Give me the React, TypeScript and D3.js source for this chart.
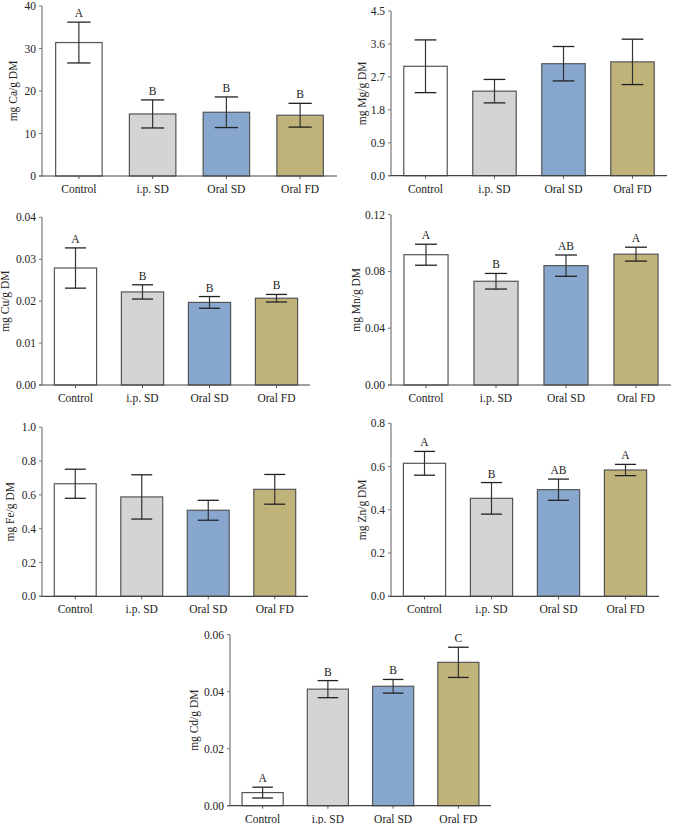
import React from "react";
import * as d3 from "d3";

const categories = ["Control", "i.p. SD", "Oral SD", "Oral FD"];
const barColors = ["#ffffff", "#d4d4d4", "#87a7cf", "#bfb37a"];

const caMean = [31.4, 14.6, 15.0, 14.3];
const caErr = [4.8, 3.3, 3.6, 2.8];
const caLetters = ["A", "B", "B", "B"];

const mgMean = [2.99, 2.31, 3.06, 3.11];
const mgErr = [0.72, 0.32, 0.47, 0.62];
const mgLetters = ["", "", "", ""];

const cuMean = [0.0279, 0.0222, 0.0197, 0.0207];
const cuErr = [0.0048, 0.0017, 0.0014, 0.0009];
const cuLetters = ["A", "B", "B", "B"];

const mnMean = [0.0918, 0.0731, 0.0841, 0.0922];
const mnErr = [0.0074, 0.0055, 0.0075, 0.0049];
const mnLetters = ["A", "B", "AB", "A"];

const feMean = [0.666, 0.588, 0.509, 0.633];
const feErr = [0.086, 0.131, 0.059, 0.088];
const feLetters = ["", "", "", ""];

const znMean = [0.615, 0.453, 0.493, 0.584];
const znErr = [0.055, 0.073, 0.049, 0.026];
const znLetters = ["A", "B", "AB", "A"];

const cdMean = [0.0046, 0.0409, 0.0419, 0.0503];
const cdErr = [0.0019, 0.003, 0.0024, 0.0053];
const cdLetters = ["A", "B", "B", "C"];

const caTicks = [0, 10, 20, 30, 40];
const mgTicks = [0, 0.9, 1.8, 2.7, 3.6, 4.5];
const cuTicks = [0, 0.01, 0.02, 0.03, 0.04];
const mnTicks = [0, 0.04, 0.08, 0.12];
const feTicks = [0, 0.2, 0.4, 0.6, 0.8, 1.0];
const znTicks = [0, 0.2, 0.4, 0.6, 0.8];
const cdTicks = [0, 0.02, 0.04, 0.06];

type PanelProps = {
  title: string;
  mean: number[];
  err: number[];
  letters: string[];
  ticks: number[];
  fmt: string;
  x0: number;
  x1: number;
  yTop: number;
  yBot: number;
  labelX: number;
};

const FONT = "Liberation Serif, Times New Roman, serif";
const FS = 11.5;

function Panel(p: PanelProps) {
  const maxV = p.ticks[p.ticks.length - 1];
  const x = d3.scaleBand<string>().domain(categories).range([p.x0, p.x1]).paddingInner(0.37).paddingOuter(0.185);
  const y = d3.scaleLinear().domain([0, maxV]).range([p.yBot, p.yTop]);
  const f = d3.format(p.fmt);
  const bw = x.bandwidth();
  const ts = { fontFamily: FONT, fontSize: FS, fill: "#222" } as React.CSSProperties;
  return (
    <g>
      {categories.map((c, i) => {
        const bx = x(c)!;
        const top = y(p.mean[i]);
        const hi = y(p.mean[i] + p.err[i]);
        const lo = y(p.mean[i] - p.err[i]);
        const cx = bx + bw / 2;
        return (
          <g key={c}>
            <rect x={bx} y={top} width={bw} height={p.yBot - top} fill={barColors[i]} stroke="#555" strokeWidth={1.2} />
            <line x1={cx} x2={cx} y1={hi} y2={lo} stroke="#333" strokeWidth={1.2} />
            <line x1={cx - bw / 4} x2={cx + bw / 4} y1={hi} y2={hi} stroke="#222" strokeWidth={1.3} />
            <line x1={cx - bw / 4} x2={cx + bw / 4} y1={lo} y2={lo} stroke="#222" strokeWidth={1.3} />
            {p.letters[i] ? (
              <text x={cx} y={hi - 5} textAnchor="middle" style={ts}>
                {p.letters[i]}
              </text>
            ) : null}
            <line x1={cx} x2={cx} y1={p.yBot} y2={p.yBot + 3} stroke="#555" strokeWidth={1} />
            <text x={cx} y={p.yBot + 17} textAnchor="middle" style={ts}>
              {c}
            </text>
          </g>
        );
      })}
      <line x1={p.x0} x2={p.x0} y1={p.yTop} y2={p.yBot} stroke="#777" strokeWidth={1.2} />
      <line x1={p.x0 - 3} x2={p.x1} y1={p.yBot} y2={p.yBot} stroke="#444" strokeWidth={1.2} />
      {p.ticks.map((t) => (
        <g key={t}>
          <line x1={p.x0 - 3} x2={p.x0} y1={y(t)} y2={y(t)} stroke="#777" strokeWidth={1} />
          <text x={p.x0 - 6} y={y(t) + 4} textAnchor="end" style={ts}>
            {f(t)}
          </text>
        </g>
      ))}
      <text
        transform={`translate(${p.labelX},${(p.yTop + p.yBot) / 2}) rotate(-90)`}
        textAnchor="middle"
        style={ts}
      >
        {p.title}
      </text>
    </g>
  );
}

export default function App() {
  return (
    <svg width={673} height={824} style={{ position: "absolute", left: 0, top: 0, background: "#fff" }}>
      <rect width={673} height={824} fill="#fff" />
      <Panel title="mg Ca/g DM" mean={caMean} err={caErr} letters={caLetters} ticks={caTicks} fmt="d" x0={42} x1={337} yTop={6} yBot={176} labelX={17} />
      <Panel title="mg Mg/g DM" mean={mgMean} err={mgErr} letters={mgLetters} ticks={mgTicks} fmt=".1f" x0={391} x1={667} yTop={11} yBot={175.7} labelX={366} />
      <Panel title="mg Cu/g DM" mean={cuMean} err={cuErr} letters={cuLetters} ticks={cuTicks} fmt=".2f" x0={42} x1={310} yTop={217.3} yBot={385} labelX={9} />
      <Panel title="mg Mn/g DM" mean={mnMean} err={mnErr} letters={mnLetters} ticks={mnTicks} fmt=".2f" x0={391} x1={671} yTop={214.7} yBot={385} labelX={360} />
      <Panel title="mg Fe/g DM" mean={feMean} err={feErr} letters={feLetters} ticks={feTicks} fmt=".1f" x0={42} x1={308} yTop={427.3} yBot={596.3} labelX={14} />
      <Panel title="mg Zn/g DM" mean={znMean} err={znErr} letters={znLetters} ticks={znTicks} fmt=".1f" x0={391} x1={659} yTop={423.3} yBot={596.3} labelX={366} />
      <Panel title="mg Cd/g DM" mean={cdMean} err={cdErr} letters={cdLetters} ticks={cdTicks} fmt=".2f" x0={230} x1={491} yTop={634.7} yBot={805.7} labelX={198} />
    </svg>
  );
}
